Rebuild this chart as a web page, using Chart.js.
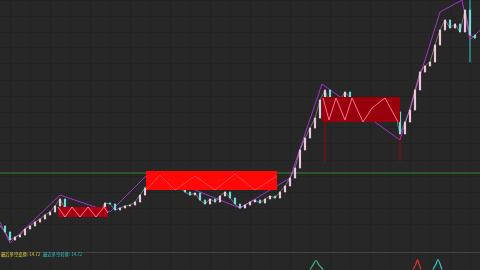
<!DOCTYPE html>
<html>
<head>
<meta charset="utf-8">
<script src="https://cdn.jsdelivr.net/npm/chart.js@4.4.1/dist/chart.umd.min.js"></script>
<style>
html, body { margin: 0; padding: 0; background: #272727; }
#wrap { position: relative; width: 480px; height: 270px; }
.lbl { position: absolute; top: 251px; font-family: "Noto Sans CJK SC", sans-serif; font-size: 4.3px; line-height: 6px; white-space: nowrap; }
</style>
</head>
<body>
<div id="wrap">
  <canvas id="kChart"></canvas>
  <div class="lbl" style="left:1px;color:#dccf3c">最后多空变换:-14.72</div>
  <div class="lbl" style="left:43px;color:#2fbdbd">最近多空转换:-14.72</div>
</div>
<script>
// closing prices, one per bar
var closes = [12.6, 12.0, 11.2, 11.5, 11.7, 12.3, 12.6, 13.0, 13.3, 13.7, 14.0, 14.6, 15.3, 14.3, 13.9, 14.3,
  13.8, 14.2, 13.8, 14.2, 14.1, 14.9, 14.8, 14.2, 14.4, 14.6, 14.7, 15.0, 15.7, 16.4, 17.2, 17.6,
  17.4, 17.8, 17.2, 17.0, 16.4, 16.0, 15.7, 15.9, 15.2, 14.8, 15.3, 15.0, 15.6, 16.0, 15.4, 14.8,
  14.4, 14.7, 15.0, 15.2, 14.9, 15.3, 15.6, 15.4, 16.0, 16.6, 17.4, 18.4, 20.2, 21.4, 22.4, 23.4,
  25.2, 26.2, 24.7, 24.2, 25.2, 26.0, 25.4, 24.8, 24.4, 24.0, 24.6, 25.2, 24.8, 25.4, 24.6, 24.0,
  21.8, 23.0, 24.2, 26.2, 28.0, 28.6, 29.0, 30.7, 32.2, 33.2, 32.4, 32.8, 32.0, 34.2, 31.7, 31.4];

// long shadows
var spikeX = [65, 80, 94];
var spikeLow = [19.0, 19.0, 29.0];
var spikeHigh = [26.2, 24.0, 35.2];

// purple swing line
var swingX = [0, 2, 12, 22, 30, 48, 58, 64.4, 80, 88, 92.4, 94, 96];
var swingY = [13.0, 10.9, 15.7, 14.0, 18.0, 14.4, 17.4, 26.8, 21.2, 34.0, 35.2, 31.2, 32.2];

// consolidation boxes
var boxX0 = [11.6, 29.2, 64.4];
var boxX1 = [21.6, 55.4, 80];
var boxTop = [14.5, 18.1, 25.5];
var boxBottom = [13.5, 16.2, 23.0];

// zigzags inside the boxes
var zz1X = [11.6, 13, 14.4, 16, 17.6, 19.2, 20.8, 21.6];
var zz1Y = [14.5, 13.5, 14.5, 13.5, 14.5, 13.5, 14.5, 13.9];
var zz2X = [29.2, 32, 35, 39, 43, 47, 51, 55.4];
var zz2Y = [16.2, 17.7, 16.2, 17.6, 16.2, 17.8, 16.2, 17.6];
var zz3X = [64.6, 65.8, 67.2, 69, 70.4, 72.6, 74.4, 77, 79.6];
var zz3Y = [25.4, 23.2, 25.4, 23.2, 25.4, 23.0, 24.4, 25.4, 23.0];

var supportLevel = 17.9;

// lower indicator humps
var humpGreenX = [62, 62.6, 63.2, 63.8, 64.6];
var humpGreenY = [0.05, 0.5, 0.95, 0.5, 0.05];
var humpRedX = [82.6, 83.2, 83.5, 83.8, 84.2];
var humpRedY = [0.05, 0.6, 1.05, 0.6, 0.05];
var humpCyanX = [86.6, 87.2, 87.6, 88, 88.4];
var humpCyanY = [0.05, 0.6, 1.05, 0.6, 0.05];

function pts(xs, ys) {
  return xs.map(function (x, i) { return { x: x, y: ys[i] }; });
}

var bodies = [], bodyColors = [];
closes.forEach(function (c, i) {
  var o = i === 0 ? c : closes[i - 1];
  bodies.push({ x: i, y: [o, c] });
  bodyColors.push(c >= o ? '#eec6da' : '#6fd8d8');
});

var spikes = spikeX.map(function (x, i) { return { x: x, y: [spikeLow[i], spikeHigh[i]] }; });

var boxColors = ['#a8000f', '#ff0808', '#98000c'];
var boxSets = [];
boxX0.forEach(function (x0, i) {
  boxSets.push({
    type: 'line', data: [{ x: x0, y: boxTop[i] }, { x: boxX1[i], y: boxTop[i] }],
    borderWidth: 0, pointRadius: 0, fill: '+1', backgroundColor: boxColors[i], order: 2
  });
  boxSets.push({
    type: 'line', data: [{ x: x0, y: boxBottom[i] }, { x: boxX1[i], y: boxBottom[i] }],
    borderWidth: 0, pointRadius: 0, fill: false, order: 2
  });
});

function zz(xs, ys, col) {
  return { type: 'line', data: pts(xs, ys), borderColor: col, borderWidth: 1, pointRadius: 0, fill: false, order: 1 };
}

function hump(xs, ys, col) {
  return { type: 'line', yAxisID: 'y2', data: pts(xs, ys), borderColor: col, borderWidth: 1.2, pointRadius: 0, fill: false, tension: 0.3 };
}

var allSets = [
  { type: 'line', data: [{ x: 0, y: supportLevel }, { x: 96, y: supportLevel }], borderColor: '#2f6a2a', borderWidth: 1.5, pointRadius: 0, order: 6 },
  { type: 'line', data: pts(swingX, swingY), borderColor: '#a235c8', borderWidth: 1, pointRadius: 0, order: 4 },
  { data: spikes, backgroundColor: ['#6a1515', '#6a1515', '#2a8c8c'], barThickness: 1, grouped: false, order: 5 },
  { type: 'line', data: pts(closes.map(function (c, i) { return i; }), closes), borderColor: 'rgba(225,215,225,0.55)', borderWidth: 0.8, pointRadius: 0, order: 3 },
  { data: bodies, backgroundColor: bodyColors, barThickness: 1.5, grouped: false, order: 3 }
].concat(boxSets).concat([
  zz(zz1X, zz1Y, '#ff7aa0'),
  zz(zz2X, zz2Y, 'rgba(255,140,160,0.45)'),
  zz(zz3X, zz3Y, '#ff6f95'),
  { type: 'line', yAxisID: 'y2', data: [{ x: 0, y: 1.75 }, { x: 96, y: 1.75 }], borderColor: '#424242', borderWidth: 1, pointRadius: 0 },
  hump(humpGreenX, humpGreenY, '#3cc07a'),
  hump(humpRedX, humpRedY, '#e0303a'),
  hump(humpCyanX, humpCyanY, '#3cc8c0')
]);
allSets.forEach(function (d) { if (!d.yAxisID) d.yAxisID = 'y'; });

var ctx = document.getElementById('kChart').getContext('2d');
var chart = new Chart(ctx, {
  type: 'bar',
  data: { datasets: allSets },
  options: {
    responsive: true,
    maintainAspectRatio: false,
    animation: false,
    layout: { padding: 0 },
    plugins: { legend: { display: false }, tooltip: { enabled: false } },
    scales: {
      x: {
        type: 'linear', min: 0, max: 96, offset: false,
        ticks: { display: false, stepSize: 4 },
        border: { display: false },
        grid: { color: '#222222', drawTicks: false }
      },
      y2: {
        stack: 'pane', stackWeight: 1, min: 0, max: 1.8, offset: false,
        ticks: { display: false },
        border: { display: false },
        grid: { display: false, drawTicks: false }
      },
      y: {
        stack: 'pane', stackWeight: 14, min: 10, max: 35.2,
        ticks: { display: false, stepSize: 1.6 },
        border: { display: false },
        grid: { color: '#222222', drawTicks: false }
      }
    }
  }
});
</script>
</body>
</html>
